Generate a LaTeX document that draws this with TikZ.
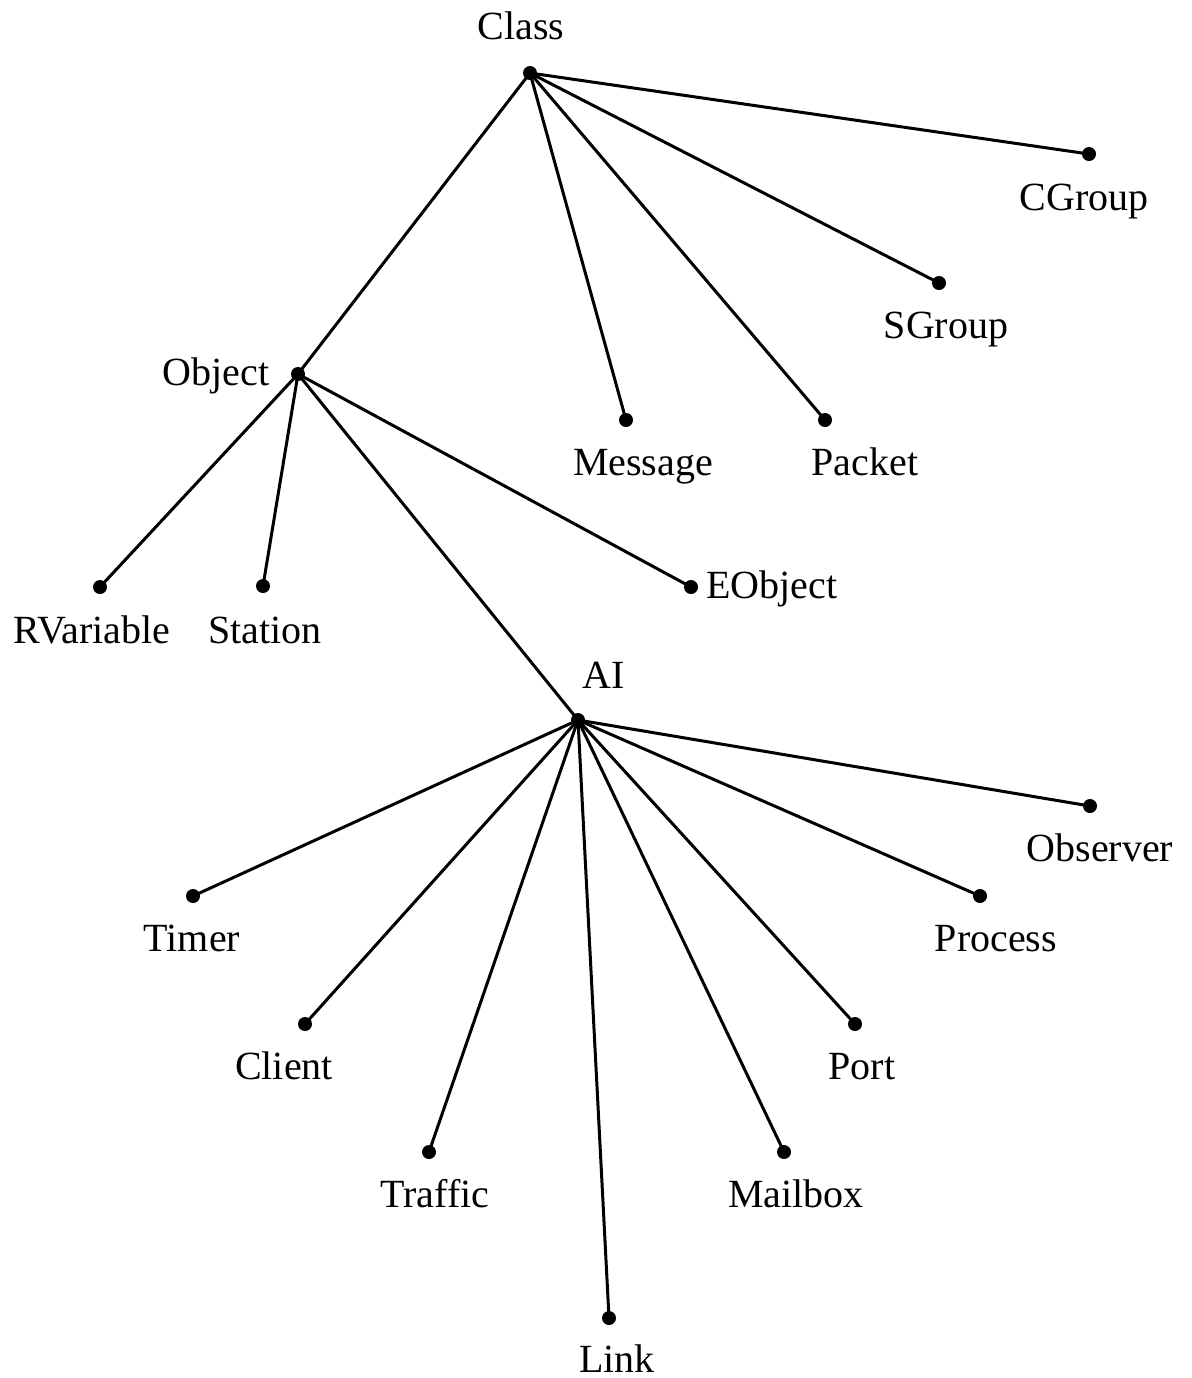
\documentclass[tikz,border=0pt]{standalone}
\usepackage{fontspec}
\setmainfont{Liberation Serif}
\begin{document}
\begin{tikzpicture}[x=0.5pt,y=-0.5pt,
  pt/.style={circle,fill=black,inner sep=0pt,minimum size=7pt},
  lbl/.style={inner sep=0pt,anchor=base,font=\fontsize{20}{24}\selectfont},
  edge/.style={line width=1.5pt}]
\useasboundingbox (0,0) rectangle (1192,1378);
% hierarchy points
\node[pt] (class) at (530,73) {};
\node[pt] (cgroup) at (1089,154) {};
\node[pt] (sgroup) at (939,283) {};
\node[pt] (packet) at (825,420) {};
\node[pt] (message) at (626,420) {};
\node[pt] (object) at (298,374) {};
\node[pt] (rvariable) at (100,587) {};
\node[pt] (station) at (263,586) {};
\node[pt] (eobject) at (691,587) {};
\node[pt] (ai) at (578,720) {};
\node[pt] (timer) at (193,896) {};
\node[pt] (client) at (305,1024) {};
\node[pt] (traffic) at (429,1152) {};
\node[pt] (link) at (609,1318) {};
\node[pt] (mailbox) at (784,1152) {};
\node[pt] (port) at (855,1024) {};
\node[pt] (process) at (980,896) {};
\node[pt] (observer) at (1090,806) {};
% labels (placed on their baselines)
\node[lbl] (tclass) at (521,39) {Class};
\node[lbl] (tcgroup) at (1084,210) {CGroup};
\node[lbl] (tsgroup) at (946,338) {SGroup};
\node[lbl] (tpacket) at (865,475) {Packet};
\node[lbl] (tmessage) at (643,475) {Message};
\node[lbl] (tobject) at (216,385) {Object};
\node[lbl] (trvariable) at (92,643) {RVariable};
\node[lbl] (tstation) at (265,643) {Station};
\node[lbl] (teobject) at (772,598) {EObject};
\node[lbl] (tai) at (604,688) {AI};
\node[lbl] (ttimer) at (192,951) {Timer};
\node[lbl] (tclient) at (284,1079) {Client};
\node[lbl] (ttraffic) at (435,1207) {Traffic};
\node[lbl] (tlink) at (617,1372) {Link};
\node[lbl] (tmailbox) at (796,1207) {Mailbox};
\node[lbl] (tport) at (862,1079) {Port};
\node[lbl] (tprocess) at (996,951) {Process};
\node[lbl] (tobserver) at (1100,861) {Observer};
% edges
\foreach \c in {cgroup,sgroup,packet,message,object}
  \draw[edge] (class.center) -- (\c.center);
\foreach \c in {rvariable,station,eobject,ai}
  \draw[edge] (object.center) -- (\c.center);
\foreach \c in {timer,client,traffic,link,mailbox,port,process,observer}
  \draw[edge] (ai.center) -- (\c.center);
\end{tikzpicture}
\end{document}
